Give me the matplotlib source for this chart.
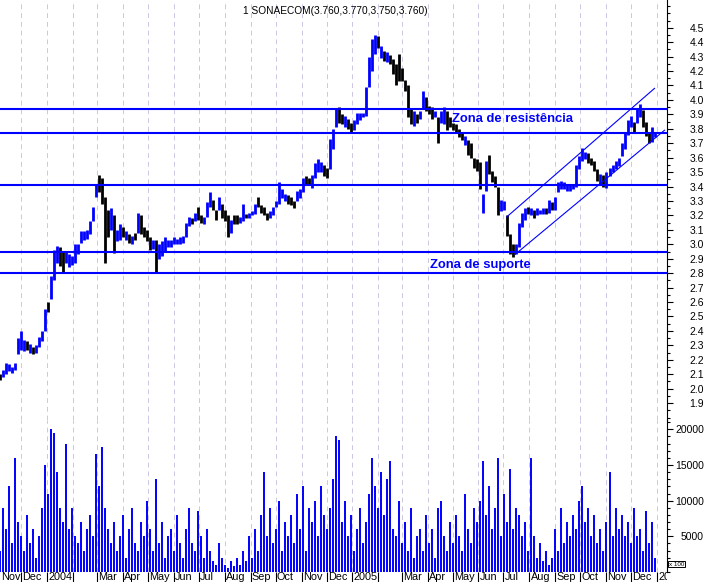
import numpy as np
import pandas as pd
import matplotlib
matplotlib.use('Agg')
import matplotlib.pyplot as plt
import matplotlib.dates as mdates
from matplotlib.ticker import FixedLocator, MultipleLocator, FormatStrFormatter

plt.rcParams['font.family'] = ['Liberation Sans', 'DejaVu Sans']

title = '1 SONAECOM(3.760,3.770,3.750,3.760)'
first_day = '2003-11-06'
last_day = '2005-12-29'

# price bars, roughly every 2-3 sessions
low = [2.06,2.08,2.10,2.12,2.11,2.13,2.24,2.27,2.26,2.27,2.25,2.24,2.25,2.29,2.33,2.40,
       2.53,2.62,2.75,2.87,2.85,2.81,2.87,2.84,2.86,2.87,2.93,3.01,3.03,3.04,3.07,3.16,
       3.33,3.36,3.28,2.87,3.05,3.10,2.94,3.02,3.03,3.05,3.03,3.01,3.00,3.03,3.08,3.07,
       3.05,3.02,2.96,2.97,2.81,2.90,2.92,2.95,2.98,2.98,3.00,3.00,3.00,3.01,3.05,3.13,
       3.14,3.16,3.17,3.15,3.14,3.19,3.26,3.24,3.17,3.24,3.18,3.16,3.05,3.08,3.14,3.14,
       3.15,3.16,3.18,3.18,3.20,3.21,3.26,3.22,3.20,3.17,3.18,3.20,3.26,3.28,3.32,3.30,
       3.28,3.27,3.25,3.30,3.32,3.36,3.42,3.42,3.39,3.46,3.50,3.50,3.47,3.46,3.52,3.66,
       3.81,3.84,3.83,3.81,3.80,3.77,3.79,3.83,3.86,3.88,3.89,4.09,4.20,4.32,4.36,4.29,
       4.27,4.26,4.25,4.18,4.10,4.13,4.13,4.06,3.88,3.83,3.82,3.84,3.87,3.94,3.92,3.90,
       3.87,3.88,3.70,3.84,3.83,3.79,3.81,3.79,3.78,3.74,3.72,3.69,3.62,3.60,3.53,3.51,
       3.38,3.22,3.37,3.49,3.43,3.40,3.20,3.23,3.24,3.06,2.93,2.91,2.93,2.98,3.12,3.17,
       3.21,3.20,3.18,3.20,3.21,3.21,3.21,3.22,3.24,3.24,3.36,3.38,3.38,3.37,3.37,3.38,
       3.40,3.52,3.58,3.59,3.56,3.55,3.51,3.44,3.41,3.40,3.39,3.47,3.50,3.52,3.54,3.61,
       3.66,3.76,3.81,3.78,3.84,3.88,3.81,3.75,3.70,3.71,3.74]
high = [2.10,2.13,2.18,2.17,2.15,2.18,2.35,2.40,2.34,2.33,2.31,2.29,2.30,2.36,2.40,2.55,
        2.60,2.78,2.96,2.99,2.98,2.95,2.95,2.93,2.92,3.00,3.00,3.09,3.09,3.10,3.16,3.26,
        3.41,3.48,3.46,3.33,3.24,3.25,3.20,3.10,3.14,3.12,3.09,3.07,3.06,3.08,3.22,3.20,
        3.12,3.10,3.05,3.03,3.03,3.00,3.02,3.05,3.03,3.03,3.05,3.04,3.05,3.06,3.15,3.19,
        3.18,3.22,3.26,3.20,3.19,3.29,3.36,3.31,3.24,3.33,3.28,3.24,3.20,3.17,3.20,3.20,
        3.19,3.28,3.21,3.22,3.23,3.28,3.33,3.27,3.26,3.22,3.23,3.26,3.30,3.43,3.38,3.35,
        3.34,3.33,3.30,3.37,3.38,3.46,3.47,3.46,3.48,3.56,3.59,3.57,3.55,3.53,3.73,3.80,
        3.94,3.95,3.90,3.89,3.87,3.84,3.86,3.91,3.91,3.91,4.09,4.30,4.42,4.45,4.44,4.37,
        4.34,4.33,4.31,4.28,4.25,4.32,4.22,4.14,4.10,3.94,3.92,3.90,3.92,4.06,4.02,3.96,
        3.95,3.92,3.88,3.92,3.95,3.92,3.88,3.84,3.83,3.80,3.78,3.75,3.72,3.70,3.60,3.59,
        3.57,3.35,3.58,3.62,3.51,3.47,3.40,3.31,3.30,3.20,3.07,3.00,3.00,3.15,3.22,3.25,
        3.26,3.25,3.24,3.25,3.24,3.25,3.25,3.31,3.29,3.33,3.43,3.44,3.43,3.42,3.41,3.42,
        3.55,3.61,3.67,3.64,3.63,3.60,3.58,3.52,3.49,3.48,3.50,3.53,3.55,3.58,3.60,3.70,
        3.77,3.86,3.89,3.85,3.94,3.97,3.93,3.85,3.78,3.81,3.78]
# 1 = rising bar (blue), 0 = falling bar (black)
rising = ("0111111110101111" "0111001111111111" "1000010110101010" "0001011111111111"
          "0100111001000100" "1101110000111111" "0001110011110011" "1001001111111101"
          "0100000000101100" "0101100000010000" "0110000110001111" "0101110101111111"
          "1111000010111111" "11101100011")

# volume (x 100)
volume = [3000, 9000, 6000, 12000, 4000, 16000, 7000, 5000, 3000, 8000, 4000, 6000, 2000, 5000, 9000, 15000,
          11000, 20000, 19500, 14000, 9000, 7000, 18000, 6000, 9000, 5000, 4000, 7000, 3000, 6000, 8000, 5000,
          16500, 12000, 17500, 9000, 6000, 4000, 7000, 3000, 5000, 8000, 2000, 6000, 9000, 4000, 3000, 7000,
          5000, 10000, 6000, 3000, 13000, 4000, 7000, 2000, 5000, 6000, 3000, 8000, 4000, 2000, 6000, 9000,
          4000, 3000, 8500, 5000, 2000, 6000, 3000, 1500, 1000, 4000, 2000, 1000, 500, 1500, 800, 2000,
          1000, 3000, 1500, 5000, 2000, 6000, 3000, 8000, 14000, 5000, 9000, 4000, 6000, 10000, 3000, 7000,
          5000, 8000, 4000, 11000, 6000, 12000, 3000, 9000, 7000, 10000, 5000, 12000, 8000, 6000, 9000, 13000,
          19000, 18500, 7000, 10000, 5000, 8000, 3000, 6000, 9000, 4000, 7000, 11000, 16000, 12000, 9000, 14000,
          8000, 13000, 15500, 6000, 5000, 10000, 4000, 7000, 3000, 9000, 2000, 5000, 6000, 3000, 8000, 4000,
          6000, 2000, 9000, 10000, 5000, 3000, 7000, 4000, 8000, 5000, 3000, 11000, 6000, 4000, 9000, 7000,
          10000, 15500, 8000, 12000, 6000, 9000, 16000, 5000, 11000, 7000, 14500, 6000, 9000, 8000, 5000, 7000,
          3000, 16000, 5000, 2000, 4000, 1500, 3000, 1000, 2000, 6000, 3000, 9000, 4000, 7000, 5000, 8000,
          6000, 10000, 12000, 7000, 9000, 5000, 8000, 4000, 6000, 3000, 7000, 14000, 5000, 9000, 6000, 8000,
          5000, 7000, 4000, 9000, 5000, 6000, 3000, 8500, 4000, 7000, 2000]

levels = [3.94, 3.77, 3.41, 2.95, 2.80]
upper_dates = ['2005-07-05', '2005-12-29']
upper_vals = [3.19, 4.08]
lower_dates = ['2005-07-15', '2006-01-10']
lower_vals = [2.93, 3.79]

price_ticks = [1.9, 2.0, 2.1, 2.2, 2.3, 2.4, 2.5, 2.6, 2.7, 2.8, 2.9, 3.0, 3.1, 3.2,
               3.3, 3.4, 3.5, 3.6, 3.7, 3.8, 3.9, 4.0, 4.1, 4.2, 4.3, 4.4, 4.5]
volume_ticks = [5000, 10000, 15000, 20000]
month_labels = ['Nov', 'Dec', '2004', '', 'Mar', 'Apr', 'May', 'Jun', 'Jul', 'Aug', 'Sep',
                'Oct', 'Nov', 'Dec', '2005', '', 'Mar', 'Apr', 'May', 'Jun', 'Jul', 'Aug',
                'Sep', 'Oct', 'Nov', 'Dec', '2006']

BLUE = '#0000ff'
W, H = 707, 582
fig = plt.figure(figsize=(W / 100, H / 100), dpi=100)
fig.patch.set_facecolor('white')

xmin = mdates.datestr2num('2003-11-05 16:00')
xmax = mdates.datestr2num('2006-01-12 23:00')

ax = fig.add_axes([0, (H - 420) / H, 667 / W, 420 / H])
axv = fig.add_axes([0, 10 / H, 667 / W, 152 / H])
axl = fig.add_axes([0, 0, 667 / W, 10 / H])

t0, t1 = mdates.datestr2num(first_day), mdates.datestr2num(last_day)
xp = np.linspace(t0, t1, len(high))
cols = [BLUE if r == '1' else 'black' for r in rising]
ax.vlines(xp, low, high, colors=cols, linewidth=2.0, zorder=2)

xv = np.linspace(t0, t1, len(volume))
axv.vlines(xv, 0, volume, colors=BLUE, linewidth=1.4, zorder=2)

months = pd.date_range('2003-11-01', '2006-01-01', freq='MS')
mnum = mdates.date2num(months.to_pydatetime())
for a in (ax, axv):
    for m in mnum:
        if xmin < m < xmax:
            a.axvline(m, color='#cdc6e4', lw=0.7, linestyle=(0, (5, 4)), zorder=1)

for lv in levels:
    ax.axhline(lv, color=BLUE, lw=1.5, zorder=3)
ax.plot(mdates.datestr2num(upper_dates), upper_vals, color=BLUE, lw=0.8, zorder=3)
ax.plot(mdates.datestr2num(lower_dates), lower_vals, color=BLUE, lw=0.8, zorder=3)

for a in (ax, axv, axl):
    a.set_xlim(xmin, xmax)
    a.set_xticks([])
    for s in ('left', 'top', 'bottom'):
        a.spines[s].set_visible(False)
    a.spines['right'].set_linewidth(0.8)
    a.set_facecolor('none')
axl.spines['right'].set_visible(False)
axl.set_yticks([])
axl.set_ylim(0, 1)

ax.set_ylim(1.783, 4.692)
ax.yaxis.set_major_locator(FixedLocator(price_ticks))
ax.yaxis.set_minor_locator(MultipleLocator(0.05))
ax.yaxis.set_major_formatter(FormatStrFormatter('%.1f'))
axv.set_ylim(0, 21300)
axv.yaxis.set_major_locator(FixedLocator(volume_ticks))
axv.yaxis.set_minor_locator(MultipleLocator(1000))
axv.yaxis.set_major_formatter(FormatStrFormatter('%d'))

for a, fs in ((ax, 7.5), (axv, 7.5)):
    a.tick_params(axis='y', which='major', direction='out', length=4, width=0.8,
                  left=False, right=True, labelleft=False, labelright=True,
                  labelsize=fs, pad=22.6)
    a.tick_params(axis='y', which='minor', direction='out', length=2.4, width=0.8,
                  left=False, right=True)
    for t in a.yaxis.get_major_ticks():
        t.label2.set_horizontalalignment('right')

# month label strip
off = 1.5
for m, lab in zip(mnum, month_labels):
    if xmin < m < xmax:
        axl.vlines(m, 0, 1, color='black', lw=0.8)
    xpos = max(m, xmin) + off
    if lab:
        axl.text(xpos, 0.45, lab, fontsize=7.8, va='center', ha='left', clip_on=True)

fig.text(335 / W, 1 - 11 / H, title, ha='center', va='center', fontsize=7.3)
fig.text(452 / W, 1 - 122 / H, 'Zona de resistência', color=BLUE, fontsize=9.4,
         fontweight='bold', ha='left', va='baseline')
fig.text(430 / W, 1 - 268 / H, 'Zona de suporte', color=BLUE, fontsize=9.4,
         fontweight='bold', ha='left', va='baseline')
fig.text(669 / W, 1 - 564 / H, 'x 100', fontsize=4.5, ha='left', va='center',
         bbox=dict(boxstyle='square,pad=0.15', fc='white', ec='black', lw=0.7))

fig.savefig('out.png', dpi=100, facecolor='white')
